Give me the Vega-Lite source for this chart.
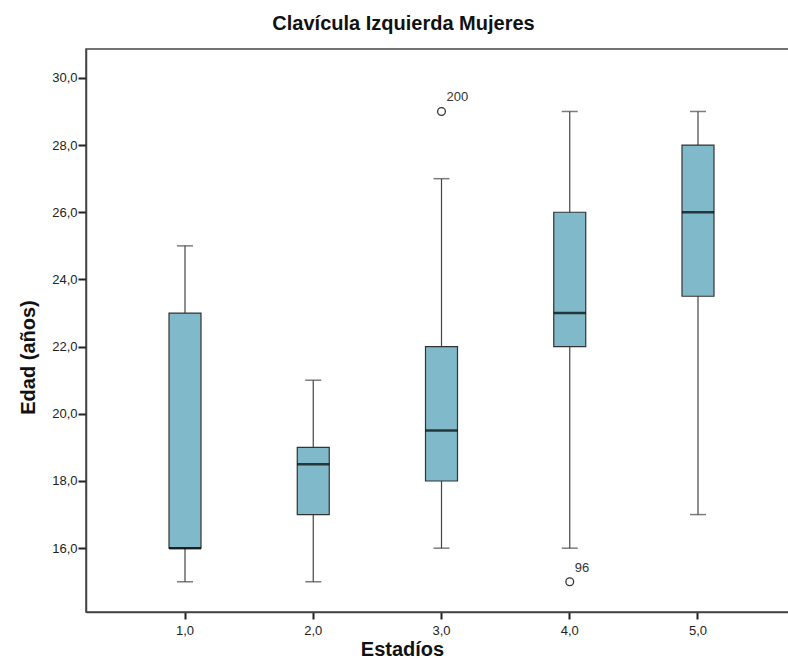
{
  "$schema": "https://vega.github.io/schema/vega-lite/v6.json",
  "autosize": "none",
  "width": 711,
  "height": 563,
  "padding": {"left": 86, "top": 49, "right": 0, "bottom": 46},
  "background": "white",
  "title": {
    "text": "Clavícula Izquierda Mujeres",
    "font": "Liberation Sans",
    "fontSize": 20,
    "fontWeight": "bold",
    "color": "#111",
    "anchor": "middle",
    "dx": -38,
    "offset": 15
  },
  "data": {
    "values": [
      {"stage": "1,0", "low": 15, "q1": 16, "median": 16, "q3": 23, "high": 25},
      {"stage": "2,0", "low": 15, "q1": 17, "median": 18.5, "q3": 19, "high": 21},
      {"stage": "3,0", "low": 16, "q1": 18, "median": 19.5, "q3": 22, "high": 27},
      {"stage": "4,0", "low": 16, "q1": 22, "median": 23, "q3": 26, "high": 29},
      {"stage": "5,0", "low": 17, "q1": 23.5, "median": 26, "q3": 28, "high": 29}
    ]
  },
  "encoding": {
    "x": {
      "field": "stage",
      "type": "ordinal",
      "scale": {"type": "band", "domain": ["1,0", "2,0", "3,0", "4,0", "5,0"], "paddingInner": 0, "paddingOuter": 0.272},
      "axis": {
        "title": "Estadíos",
        "titleFont": "Liberation Sans",
        "titleFontSize": 20,
        "titleFontWeight": "bold",
        "titleColor": "#111",
        "titleX": 316,
        "titleY": 37,
        "titleBaseline": "middle",
        "labelAngle": 0,
        "labelFont": "Liberation Sans",
        "labelFontSize": 13,
        "labelColor": "#222",
        "labelPadding": 5,
        "tickSize": 7,
        "tickWidth": 2,
        "tickColor": "#222",
        "domainColor": "#444",
        "domainWidth": 1.5
      }
    }
  },
  "layer": [
    {
      "mark": {"type": "rule", "color": "#444", "strokeWidth": 1.2},
      "encoding": {
        "y": {
          "field": "low",
          "type": "quantitative",
          "scale": {"domain": [14.1, 30.86], "nice": false, "zero": false},
          "axis": {
            "title": "Edad (años)",
            "titleFont": "Liberation Sans",
            "titleFontSize": 20,
            "titleFontWeight": "bold",
            "titleColor": "#111",
            "titleX": -58,
            "titleY": 308,
            "titleAngle": -90,
            "titleBaseline": "middle",
            "titleAnchor": "middle",
            "titleAlign": "center",
            "values": [16, 18, 20, 22, 24, 26, 28, 30],
            "labelExpr": "replace(format(datum.value, '.1f'), '.', ',')",
            "labelFont": "Liberation Sans",
            "labelFontSize": 13,
            "labelColor": "#222",
            "labelPadding": 1,
            "tickSize": 8,
            "tickWidth": 2,
            "tickColor": "#222",
            "domainColor": "#444",
            "domainWidth": 1.5,
            "grid": false
          }
        },
        "y2": {"field": "high"}
      }
    },
    {
      "mark": {"type": "tick", "color": "#444", "thickness": 1.5},
      "encoding": {"y": {"field": "low", "type": "quantitative"}, "size": {"value": 16}}
    },
    {
      "mark": {"type": "tick", "color": "#444", "thickness": 1.5},
      "encoding": {"y": {"field": "high", "type": "quantitative"}, "size": {"value": 16}}
    },
    {
      "mark": {"type": "bar", "size": 32, "fill": "#80b9c9", "stroke": "#333", "strokeWidth": 1.2},
      "encoding": {"y": {"field": "q1", "type": "quantitative"}, "y2": {"field": "q3"}}
    },
    {
      "mark": {"type": "tick", "color": "#000", "thickness": 2.5},
      "encoding": {"y": {"field": "median", "type": "quantitative"}, "size": {"value": 32}}
    },
    {
      "data": {"values": [{"stage": "3,0", "value": 29, "id": "200"}, {"stage": "4,0", "value": 15, "id": "96"}]},
      "layer": [
        {
          "mark": {"type": "point", "shape": "circle", "filled": false, "size": 60, "stroke": "#333", "strokeWidth": 1.3, "opacity": 1},
          "encoding": {"y": {"field": "value", "type": "quantitative"}}
        },
        {
          "mark": {"type": "text", "align": "left", "baseline": "middle", "dx": 5, "dy": -14, "font": "Liberation Sans", "fontSize": 13, "color": "#333"},
          "encoding": {"y": {"field": "value", "type": "quantitative"}, "text": {"field": "id"}}
        }
      ]
    }
  ],
  "config": {
    "view": {"stroke": "#444", "strokeWidth": 1.5}
  }
}
